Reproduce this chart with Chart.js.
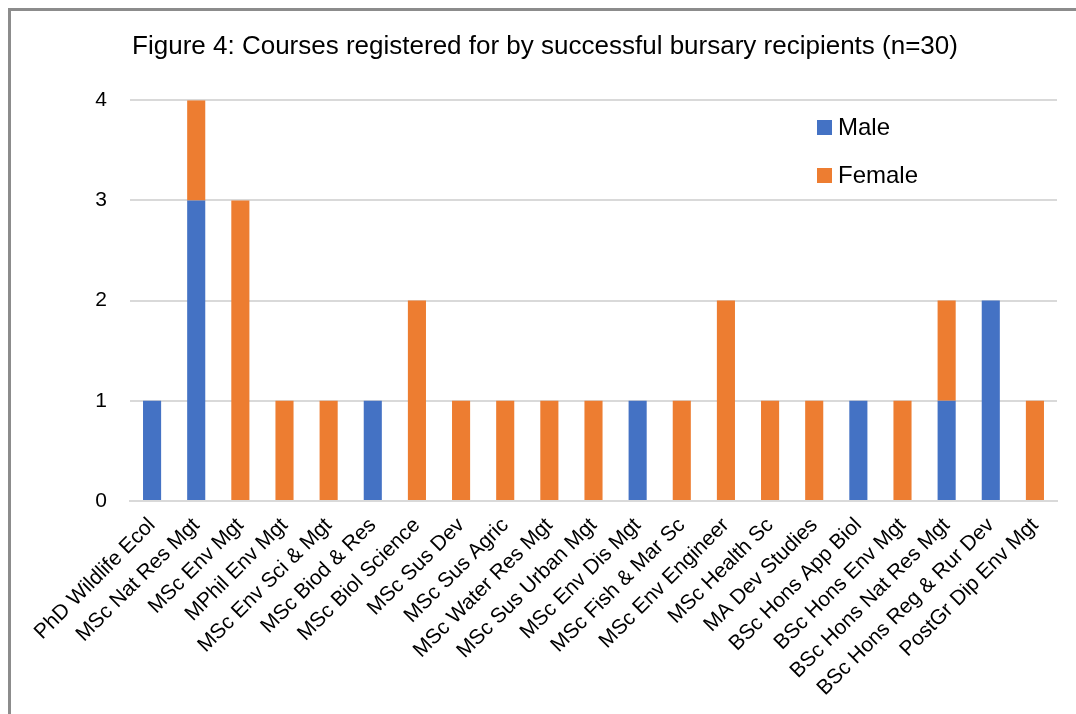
<!DOCTYPE html>
<html>
<head>
<meta charset="utf-8">
<script src="https://cdn.jsdelivr.net/npm/chart.js@4/dist/chart.umd.min.js"></script>
<style>
  html, body { margin: 0; padding: 0; background: #fff; overflow: hidden; }
  #frame { position: absolute; left: 8px; top: 8px; width: 2000px; height: 2000px;
           border-left: 3px solid #8c8c8c; border-top: 3px solid #8c8c8c; }
  #myChart { position: absolute; left: 0; top: 0; }
</style>
</head>
<body>
<div id="frame"></div>
<canvas id="myChart" width="1076" height="714"></canvas>
<script>
// données
const courses = [
    'PhD Wildlife Ecol', 'MSc Nat Res Mgt', 'MSc Env Mgt', 'MPhil Env Mgt',
    'MSc Env Sci & Mgt', 'MSc Biod & Res', 'MSc Biol Science', 'MSc Sus Dev',
    'MSc Sus Agric', 'MSc Water Res Mgt', 'MSc Sus Urban Mgt', 'MSc Env Dis Mgt',
    'MSc Fish & Mar Sc', 'MSc Env Engineer', 'MSc Health Sc', 'MA Dev Studies',
    'BSc Hons App Biol', 'BSc Hons Env Mgt', 'BSc Hons Nat Res Mgt',
    'BSc Hons Reg & Rur Dev', 'PostGr Dip Env Mgt'
];
const male   = [1, 3, 0, 0, 0, 1, 0, 0, 0, 0, 0, 1, 0, 0, 0, 0, 1, 0, 1, 2, 0];
const female = [0, 1, 3, 1, 1, 0, 2, 1, 1, 1, 1, 0, 1, 2, 1, 1, 0, 1, 1, 0, 1];
const yTicks = [0, 1, 2, 3, 4];

const FONT = "'Liberation Sans', Arial, sans-serif";

// légende verticale dessinée dans la zone du graphique
const insideLegend = {
    id: 'insideLegend',
    afterDraw(chart) {
        const ctx = chart.ctx;
        const x = 817;
        const ys = [127, 175];
        ctx.save();
        ctx.font = '24px ' + FONT;
        ctx.textBaseline = 'middle';
        chart.data.datasets.forEach((ds, i) => {
            ctx.fillStyle = ds.backgroundColor;
            ctx.fillRect(x, ys[i] - 7, 15, 15);
            ctx.fillStyle = '#000';
            ctx.fillText(ds.label, x + 21, ys[i] + 1);
        });
        ctx.restore();
    }
};

const ctx = document.getElementById('myChart').getContext('2d');
const myChart = new Chart(ctx, {
    type: 'bar',
    data: {
        labels: courses,
        datasets: [
            { label: 'Male', data: male, backgroundColor: '#4472C4',
              categoryPercentage: 1, barPercentage: 0.41 },
            { label: 'Female', data: female, backgroundColor: '#ED7D31',
              categoryPercentage: 1, barPercentage: 0.41 }
        ]
    },
    options: {
        responsive: false,
        animation: false,
        layout: { padding: { left: 33, right: 19, top: 0, bottom: 0 } },
        scales: {
            x: {
                stacked: true,
                grid: { display: false },
                border: { color: '#d9d9d9', width: 2 },
                ticks: {
                    color: '#000', font: { family: FONT, size: 21 },
                    maxRotation: 45, minRotation: 45, autoSkip: false, padding: 4
                },
                afterFit(s) { s.height = 213; s.paddingLeft = 0; s.paddingRight = 0; }
            },
            y: {
                stacked: true,
                min: 0, max: 4,
                afterBuildTicks(s) { s.ticks = yTicks.map(v => ({ value: v })); },
                grid: { color: '#d9d9d9', lineWidth: 2, drawTicks: false },
                border: { display: false },
                ticks: { color: '#000', font: { family: FONT, size: 21 }, padding: 23 },
                afterFit(s) { s.width = 97; }
            }
        },
        plugins: {
            legend: { display: false },
            tooltip: { enabled: false },
            title: {
                display: true,
                text: 'Figure 4: Courses registered for by successful bursary recipients (n=30)',
                color: '#000',
                font: { family: FONT, size: 26, weight: 'normal' },
                padding: { top: 31, bottom: 38 }
            }
        }
    },
    plugins: [insideLegend]
});
</script>
</body>
</html>
